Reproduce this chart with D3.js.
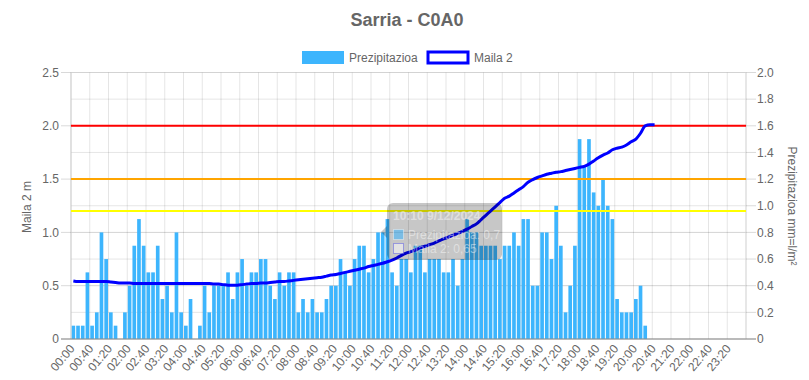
<!DOCTYPE html>
<html><head><meta charset="utf-8">
<script src="https://cdn.jsdelivr.net/npm/d3@7"></script>
<style>
body{margin:0;background:#fff}
svg{display:block;font-family:"Liberation Sans",Arial,Helvetica,sans-serif}
</style>
</head><body>
<svg id="chart" width="809" height="380"></svg>
<script>
const categories = [
"00:00","00:10","00:20","00:30","00:40","00:50","01:00","01:10","01:20","01:30","01:40","01:50",
"02:00","02:10","02:20","02:30","02:40","02:50","03:00","03:10","03:20","03:30","03:40","03:50",
"04:00","04:10","04:20","04:30","04:40","04:50","05:00","05:10","05:20","05:30","05:40","05:50",
"06:00","06:10","06:20","06:30","06:40","06:50","07:00","07:10","07:20","07:30","07:40","07:50",
"08:00","08:10","08:20","08:30","08:40","08:50","09:00","09:10","09:20","09:30","09:40","09:50",
"10:00","10:10","10:20","10:30","10:40","10:50","11:00","11:10","11:20","11:30","11:40","11:50",
"12:00","12:10","12:20","12:30","12:40","12:50","13:00","13:10","13:20","13:30","13:40","13:50",
"14:00","14:10","14:20","14:30","14:40","14:50","15:00","15:10","15:20","15:30","15:40","15:50",
"16:00","16:10","16:20","16:30","16:40","16:50","17:00","17:10","17:20","17:30","17:40","17:50",
"18:00","18:10","18:20","18:30","18:40","18:50","19:00","19:10","19:20","19:30","19:40","19:50",
"20:00","20:10","20:20","20:30","20:40","20:50","21:00","21:10","21:20","21:30","21:40","21:50",
"22:00","22:10","22:20","22:30","22:40","22:50","23:00","23:10","23:20","23:30","23:40","23:50"];

const xTickLabels = ["00:00","00:40","01:20","02:00","02:40","03:20","04:00","04:40","05:20","06:00",
"06:40","07:20","08:00","08:40","09:20","10:00","10:40","11:20","12:00","12:40","13:20","14:00",
"14:40","15:20","16:00","16:40","17:20","18:00","18:40","19:20","20:00","20:40","21:20","22:00",
"22:40","23:20"];

// Prezipitazioa (mm = l/m²), right axis
const precipitation = [
0.1,0.1,0.1,0.5,0.1,0.2,0.8,0.6,0.2,0.1,
0,0.2,0.4,0.7,0.9,0.7,0.5,0.5,0.7,0.3,
0.4,0.2,0.8,0.2,0.1,0.3,0,0.1,0.4,0.2,
0.4,0.4,0.4,0.5,0.3,0.5,0.6,0.4,0.5,0.5,
0.6,0.6,0.4,0.3,0.5,0.4,0.5,0.5,0.2,0.3,
0.2,0.3,0.2,0.2,0.3,0.4,0.4,0.6,0.5,0.4,
0.6,0.7,0.7,0.5,0.6,0.8,0.8,0.9,0.5,0.4,
0.6,0.6,0.5,0.7,0.7,0.5,0.6,0.6,0.6,0.5,
0.5,0.6,0.4,0.6,0.9,0.8,0.8,0.7,0.7,0.7,
0.7,0.6,0.7,0.7,0.8,0.7,0.9,0.9,0.4,0.4,
0.8,0.8,0.6,1.0,0.7,0.2,0.4,0.7,1.5,1.3,
1.5,1.1,1.0,1.2,1.0,0.9,0.3,0.2,0.2,0.2,
0.3,0.4,0.1];

// Maila 2 (m), left axis
const level = [
0.545,0.54,0.54,0.54,0.54,0.54,0.54,0.54,0.535,0.53,
0.525,0.525,0.525,0.52,0.52,0.52,0.52,0.52,0.52,0.52,
0.52,0.52,0.52,0.52,0.52,0.52,0.52,0.52,0.52,0.52,
0.515,0.515,0.51,0.505,0.505,0.505,0.51,0.515,0.52,0.52,
0.525,0.525,0.53,0.535,0.54,0.54,0.545,0.55,0.555,0.56,
0.565,0.57,0.575,0.58,0.59,0.60,0.605,0.615,0.625,0.635,
0.645,0.655,0.665,0.68,0.69,0.70,0.71,0.725,0.74,0.76,
0.785,0.805,0.82,0.835,0.855,0.87,0.885,0.90,0.92,0.94,
0.955,0.975,0.99,1.01,1.03,1.055,1.08,1.12,1.16,1.20,
1.24,1.28,1.32,1.34,1.37,1.40,1.43,1.47,1.495,1.515,
1.53,1.545,1.555,1.565,1.57,1.58,1.59,1.60,1.61,1.62,
1.64,1.67,1.70,1.725,1.745,1.775,1.79,1.80,1.82,1.85,
1.875,1.93,2.00,2.01,2.01];

const thresholdValues = [2.0, 1.5, 1.2];
const thresholdColors = ["#ff0000", "#ffa500", "#ffff00"];
const leftTicks = [0, 0.5, 1.0, 1.5, 2.0, 2.5];
const leftTickLabels = ["0", "0.5", "1.0", "1.5", "2.0", "2.5"];
const rightTicks = [0, 0.2, 0.4, 0.6, 0.8, 1.0, 1.2, 1.4, 1.6, 1.8, 2.0];
const rightTickLabels = ["0", "0.2", "0.4", "0.6", "0.8", "1.0", "1.2", "1.4", "1.6", "1.8", "2.0"];

const W = 809, H = 380;
const L = 71, R = 746, T = 72.5, B = 339;
const barColor = "#3db5fd";
const textColor = "#666";

const svg = d3.select("#chart");
const x = d3.scaleBand().domain(categories).range([L, R]).paddingInner(0).paddingOuter(0);
const bw = x.bandwidth();
const yL = d3.scaleLinear().domain([0, 2.5]).range([B, T]);
const yR = d3.scaleLinear().domain([0, 2.0]).range([B, T]);

// gridlines
const grid = svg.append("g");
grid.selectAll(".hr").data(rightTicks).join("line")
  .attr("x1", L).attr("x2", R).attr("y1", d => yR(d)).attr("y2", d => yR(d))
  .attr("stroke", "rgba(0,0,0,0.1)").attr("stroke-width", 1);
grid.selectAll(".hl").data(leftTicks).join("line")
  .attr("x1", L).attr("x2", R).attr("y1", d => yL(d)).attr("y2", d => yL(d))
  .attr("stroke", "rgba(0,0,0,0.08)").attr("stroke-width", 1);
grid.selectAll(".v").data(xTickLabels).join("line")
  .attr("x1", d => x(d)).attr("x2", d => x(d)).attr("y1", T).attr("y2", B)
  .attr("stroke", "rgba(0,0,0,0.1)");

// bars
const barW = bw * 0.78;
svg.append("g").selectAll("rect").data(precipitation).join("rect")
  .attr("x", (d, i) => x(categories[i]) + (bw - barW) / 2)
  .attr("width", barW)
  .attr("y", d => yR(d))
  .attr("height", d => B - yR(d))
  .attr("fill", barColor);

// axes lines
svg.append("line").attr("x1", L).attr("x2", L).attr("y1", T).attr("y2", B).attr("stroke", "#cfcfcf");
svg.append("line").attr("x1", R).attr("x2", R).attr("y1", T).attr("y2", B).attr("stroke", "#cfcfcf");
// tick marks
svg.append("g").selectAll("line").data(leftTicks).join("line")
  .attr("x1", L - 10).attr("x2", L).attr("y1", d => yL(d)).attr("y2", d => yL(d))
  .attr("stroke", "rgba(0,0,0,0.15)");
svg.append("g").selectAll("line").data(rightTicks).join("line")
  .attr("x1", R).attr("x2", R + 10).attr("y1", d => yR(d)).attr("y2", d => yR(d))
  .attr("stroke", "rgba(0,0,0,0.15)");
svg.append("line").attr("x1", L - 10).attr("x2", R + 10).attr("y1", B).attr("y2", B).attr("stroke", "#8c8c8c");

// thresholds
svg.append("g").selectAll("line").data(thresholdValues).join("line")
  .attr("x1", L).attr("x2", R).attr("y1", d => yL(d)).attr("y2", d => yL(d))
  .attr("stroke", (d, i) => thresholdColors[i]).attr("stroke-width", 2);

// level line
const lineGen = d3.line()
  .x((d, i) => x(categories[i]) + bw / 2)
  .y(d => yL(d))
  .curve(d3.curveMonotoneX);
svg.append("path").datum(level).attr("d", lineGen)
  .attr("fill", "none").attr("stroke", "#0000ff").attr("stroke-width", 3)
  .attr("stroke-linejoin", "round");

// tick labels
svg.append("g").selectAll("text").data(leftTicks).join("text")
  .attr("x", L - 12).attr("y", d => yL(d)).attr("dy", "0.35em")
  .attr("text-anchor", "end").attr("font-size", 12).attr("fill", textColor)
  .text((d, i) => leftTickLabels[i]);
svg.append("g").selectAll("text").data(rightTicks).join("text")
  .attr("x", R + 11).attr("y", d => yR(d)).attr("dy", "0.35em")
  .attr("text-anchor", "start").attr("font-size", 12).attr("fill", textColor)
  .text((d, i) => rightTickLabels[i]);
svg.append("g").selectAll("text").data(xTickLabels).join("text")
  .attr("transform", d => `translate(${x(d) + bw / 2 + 2},${B + 10}) rotate(-50)`)
  .attr("text-anchor", "end").attr("font-size", 12).attr("fill", textColor)
  .text(d => d);

// axis titles
svg.append("text").attr("transform", "translate(31,207) rotate(-90)")
  .attr("text-anchor", "middle").attr("font-size", 12).attr("fill", textColor).text("Maila 2 m");
svg.append("text").attr("transform", "translate(788,206) rotate(90)")
  .attr("text-anchor", "middle").attr("font-size", 12).attr("fill", textColor).text("Prezipitazioa mm=l/m²");

// title
svg.append("text").attr("x", 407).attr("y", 26).attr("text-anchor", "middle")
  .attr("font-size", 18).attr("font-weight", "bold").attr("fill", textColor).text("Sarria - C0A0");

// legend
svg.append("rect").attr("x", 302).attr("y", 51).attr("width", 42).attr("height", 13).attr("fill", barColor);
svg.append("text").attr("x", 349).attr("y", 61.5).attr("font-size", 12).attr("fill", textColor).text("Prezipitazioa");
svg.append("rect").attr("x", 428).attr("y", 52).attr("width", 40).attr("height", 11)
  .attr("fill", "#fff").attr("stroke", "#0000ff").attr("stroke-width", 3);
svg.append("text").attr("x", 474).attr("y", 61.5).attr("font-size", 12).attr("fill", textColor).text("Maila 2");

// fading tooltip
const tip = svg.append("g");
tip.append("rect").attr("x", 387).attr("y", 203).attr("width", 115).attr("height", 57).attr("rx", 6)
  .attr("fill", "rgba(0,0,0,0.22)");
tip.append("path").attr("d", "M387,226 L381,232 L387,238 Z").attr("fill", "rgba(0,0,0,0.22)");
tip.append("text").attr("x", 393).attr("y", 220).attr("font-size", 12).attr("font-weight", "bold")
  .attr("fill", "rgba(255,255,255,0.45)").text("10:10 9/12/2024");
tip.append("rect").attr("x", 393.5).attr("y", 229.5).attr("width", 10).attr("height", 10)
  .attr("fill", "rgba(61,181,253,0.55)").attr("stroke", "rgba(255,255,255,0.4)");
tip.append("text").attr("x", 408).attr("y", 238.5).attr("font-size", 12)
  .attr("fill", "rgba(255,255,255,0.45)").text("Prezipitazioa: 0,7");
tip.append("rect").attr("x", 393.5).attr("y", 243.5).attr("width", 10).attr("height", 10)
  .attr("fill", "rgba(255,255,255,0.5)").attr("stroke", "rgba(90,90,230,0.5)");
tip.append("text").attr("x", 408).attr("y", 252.5).attr("font-size", 12)
  .attr("fill", "rgba(255,255,255,0.45)").text("Maila 2: 0,65");
</script>
</body></html>
